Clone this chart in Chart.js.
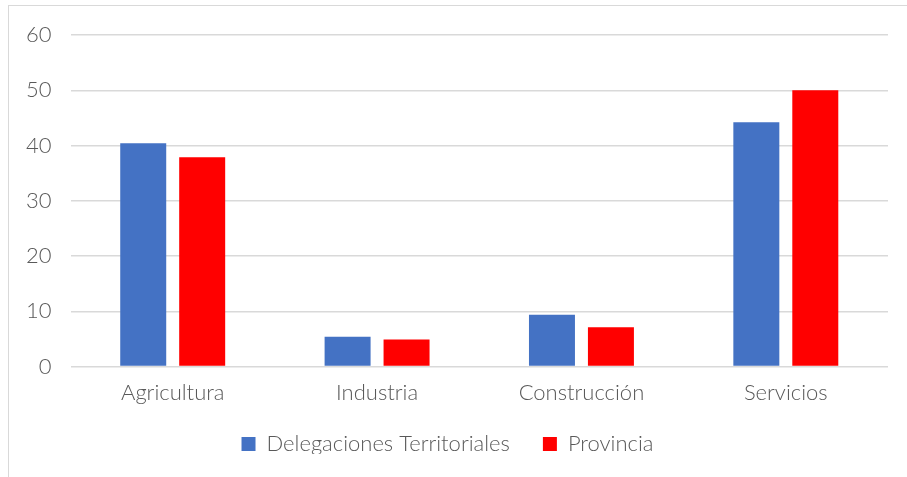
<!DOCTYPE html>
<html>
<head>
<meta charset="utf-8">
<script src="https://cdn.jsdelivr.net/npm/chart.js@4"></script>
<style>
  html, body { margin: 0; padding: 0; background: #fff; }
  #wrap { position: relative; width: 907px; height: 477px; overflow: hidden; }
  #frame { position: absolute; left: 8px; top: 5px; width: 920px; height: 490px; border: 1.5px solid #d9d9d9; box-sizing: border-box; }
  #sectorChart { position: absolute; left: 0; top: 0; }
</style>
</head>
<body>
<div id="wrap">
  <div id="frame"></div>
  <canvas id="sectorChart" width="907" height="477"></canvas>
</div>
<script>
// Empleo por sector (%)
const sectors = ["Agricultura", "Industria", "Construcción", "Servicios"];
const delegaciones = [40.4, 5.4, 9.4, 44.2];
const provincia = [37.9, 4.9, 7.1, 50.0];

const textColor = "#595959";
const gridColor = "#d9d9d9";
const labelFont = { family: "Lato, 'Open Sans', sans-serif", size: 22, weight: 300 };

// keep the wide gap between legend items but take less room from the plot:
// the legend box is fitted shorter, then drawn a bit higher
const legendShift = 11;
const tightLegend = {
    id: 'tightLegend',
    beforeInit(chart) {
        const fit = chart.legend.fit;
        chart.legend.fit = function() {
            fit.bind(chart.legend)();
            this.height -= legendShift;
        };
    },
    afterLayout(chart) {
        chart.legend.top -= legendShift;
        chart.legend.bottom -= legendShift;
    }
};

let ctx = document.getElementById("sectorChart").getContext('2d');
new Chart(ctx, {
    type: 'bar',
    data: {
        labels: sectors,
        datasets: [{
            label: "Delegaciones Territoriales",
            backgroundColor: "#4472c4",
            data: delegaciones,
            categoryPercentage: 0.577,
            barPercentage: 0.78
        }, {
            label: "Provincia",
            backgroundColor: "#ff0000",
            data: provincia,
            categoryPercentage: 0.577,
            barPercentage: 0.78
        }]
    },
    options: {
        responsive: false,
        animation: false,
        layout: { padding: { left: 7, right: 19, top: 35, bottom: 12 } },
        plugins: {
            legend: {
                position: 'bottom',
                labels: {
                    color: textColor,
                    font: labelFont,
                    boxWidth: 14,
                    boxHeight: 14,
                    padding: 33
                }
            },
            tooltip: { enabled: false }
        },
        scales: {
            x: {
                grid: { display: false },
                border: { display: false },
                ticks: { color: textColor, font: labelFont, padding: 5 }
            },
            y: {
                min: 0,
                max: 60,
                ticks: { stepSize: 10, color: textColor, font: labelFont, padding: 19 },
                grid: { color: gridColor, lineWidth: 1.5, drawTicks: false },
                border: { display: false }
            }
        }
    },
    plugins: [tightLegend]
});
</script>
</body>
</html>
